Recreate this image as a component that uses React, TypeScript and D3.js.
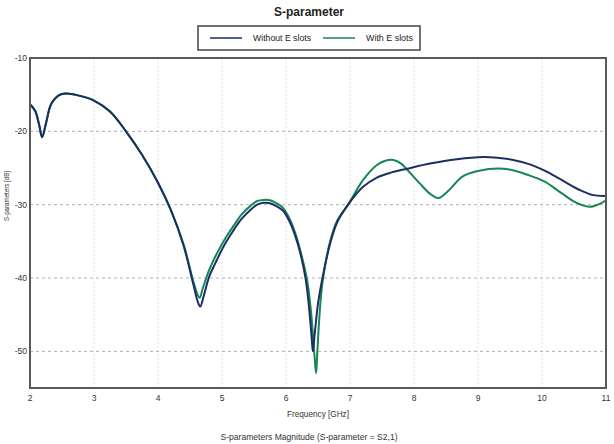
import { useEffect, useRef } from "react";
import * as d3 from "d3";

// S21 magnitude, reference design (frequency in GHz, magnitude in dB)
const freqWithout = [
  2.0, 2.08, 2.14, 2.19, 2.25, 2.33, 2.45, 2.56, 2.75, 3.0, 3.25, 3.5, 3.75, 4.0,
  4.2, 4.4, 4.55, 4.62, 4.66, 4.71, 4.8, 4.9, 5.05, 5.18, 5.3, 5.44, 5.55, 5.65,
  5.75, 5.85, 5.95, 6.05, 6.15, 6.24, 6.31, 6.36, 6.4, 6.42, 6.45, 6.5, 6.57,
  6.69, 6.8, 6.97, 7.2, 7.42, 7.65, 7.89, 8.25, 8.67, 9.08, 9.3, 9.55, 9.81,
  10.05, 10.3, 10.59, 10.8, 11.0,
];
const dbWithout = [
  -16.3, -17.2, -19.0, -20.8, -18.9, -16.3, -15.1, -14.85, -15.1, -15.8, -17.3,
  -20.0, -23.2, -27.0, -30.7, -35.6, -40.8, -43.2, -43.9, -42.6, -39.8, -37.9,
  -35.3, -33.5, -32.0, -30.75, -30.0, -29.75, -29.8, -30.2, -30.8, -32.2, -34.4,
  -37.2, -40.3, -44.0, -48.0, -50.0, -47.5, -43.5, -40.0, -35.3, -32.4, -30.0,
  -27.6, -26.3, -25.6, -25.1, -24.4, -23.8, -23.5, -23.6, -23.9, -24.5, -25.4,
  -26.6, -28.0, -28.7, -28.8,
];

// S21 magnitude with the E-shaped slots
const freqWith = [
  2.0, 2.08, 2.14, 2.19, 2.25, 2.33, 2.45, 2.56, 2.75, 3.0, 3.25, 3.5, 3.75, 4.0,
  4.2, 4.4, 4.55, 4.62, 4.65, 4.7, 4.8, 4.9, 5.05, 5.18, 5.3, 5.44, 5.55, 5.65,
  5.75, 5.85, 5.95, 6.05, 6.15, 6.24, 6.33, 6.39, 6.44, 6.47, 6.49, 6.52, 6.57,
  6.69, 6.8, 6.97, 7.2, 7.42, 7.55, 7.68, 7.8, 7.89, 8.09, 8.25, 8.38, 8.55,
  8.75, 9.0, 9.4, 9.8, 10.05, 10.3, 10.55, 10.75, 10.9, 11.0,
];
const dbWith = [
  -16.3, -17.2, -19.0, -20.8, -18.9, -16.3, -15.1, -14.85, -15.1, -15.8, -17.3,
  -20.0, -23.2, -27.0, -30.7, -35.4, -40.4, -42.3, -42.7, -41.4, -38.9, -37.0,
  -34.6, -32.9, -31.4, -30.2, -29.5, -29.35, -29.4, -29.8, -30.4, -31.8, -34.0,
  -36.8, -40.3, -44.5, -50.0, -53.0, -50.0, -45.5, -40.6, -35.0, -32.2, -30.0,
  -26.7, -24.6, -24.0, -23.9, -24.4, -25.2, -27.1, -28.5, -29.1, -28.0, -26.2,
  -25.4, -25.1, -26.0, -26.9, -28.4, -29.8, -30.3, -29.9, -29.4,
];

const xTicks = [2, 3, 4, 5, 6, 7, 8, 9, 10, 11];
const yTicks = [-10, -20, -30, -40, -50];

const seriesNames = ["Without E slots", "With E slots"];
const seriesColors = ["#1b2f63", "#168656"];

const W = 614;
const H = 444;
const plot = { left: 30, right: 606, top: 58, bottom: 388 };
const font = "Arial, 'Liberation Sans', sans-serif";

export default function App() {
  const svgRef = useRef<SVGSVGElement | null>(null);

  useEffect(() => {
    if (!svgRef.current) return;
    const svg = d3.select(svgRef.current);
    svg.selectAll("*").remove();

    const x = d3.scaleLinear().domain([2, 11]).range([plot.left, plot.right]);
    const y = d3
      .scaleLinear()
      .domain([-10, -55])
      .range([plot.top, plot.bottom]);

    svg.append("rect").attr("width", W).attr("height", H).attr("fill", "#fff");

    // grid
    svg
      .append("g")
      .selectAll("line")
      .data(xTicks.slice(1, -1))
      .enter()
      .append("line")
      .attr("x1", (d) => x(d))
      .attr("x2", (d) => x(d))
      .attr("y1", plot.top)
      .attr("y2", plot.bottom)
      .attr("stroke", "#e2e2e2")
      .attr("stroke-width", 1)
      .attr("stroke-dasharray", "2,2");

    svg
      .append("g")
      .selectAll("line")
      .data(yTicks.slice(1))
      .enter()
      .append("line")
      .attr("x1", plot.left)
      .attr("x2", plot.right)
      .attr("y1", (d) => y(d))
      .attr("y2", (d) => y(d))
      .attr("stroke", "#b0b0b0")
      .attr("stroke-width", 1)
      .attr("stroke-dasharray", "3,3");

    // curves (green first so the navy one sits on top where they coincide)
    const line = d3
      .line<[number, number]>()
      .x((d) => x(d[0]))
      .y((d) => y(d[1]))
      .curve(d3.curveCatmullRom.alpha(0.5));

    const series: [number, number][][] = [
      freqWithout.map((f, i) => [f, dbWithout[i]]),
      freqWith.map((f, i) => [f, dbWith[i]]),
    ];

    svg
      .append("g")
      .selectAll("path")
      .data([1, 0])
      .enter()
      .append("path")
      .attr("d", (i) => line(series[i]) as string)
      .attr("fill", "none")
      .attr("stroke", (i) => seriesColors[i])
      .attr("stroke-width", 2);

    // frame
    svg
      .append("rect")
      .attr("x", plot.left)
      .attr("y", plot.top)
      .attr("width", plot.right - plot.left)
      .attr("height", plot.bottom - plot.top)
      .attr("fill", "none")
      .attr("stroke", "#595959")
      .attr("stroke-width", 2);

    // tick labels
    svg
      .append("g")
      .selectAll("text")
      .data(yTicks)
      .enter()
      .append("text")
      .attr("x", plot.left - 3)
      .attr("y", (d) => y(d) + 3)
      .attr("text-anchor", "end")
      .attr("font-family", font)
      .attr("font-size", 8.5)
      .attr("fill", "#333")
      .text((d) => d);

    svg
      .append("g")
      .selectAll("text")
      .data(xTicks)
      .enter()
      .append("text")
      .attr("x", (d) => x(d))
      .attr("y", plot.bottom + 13)
      .attr("text-anchor", "middle")
      .attr("font-family", font)
      .attr("font-size", 8.5)
      .attr("fill", "#333")
      .text((d) => d);

    // titles
    svg
      .append("text")
      .attr("x", 309)
      .attr("y", 16)
      .attr("text-anchor", "middle")
      .attr("font-family", font)
      .attr("font-size", 13)
      .attr("font-weight", "bold")
      .attr("fill", "#222")
      .attr("textLength", 70)
      .attr("lengthAdjust", "spacingAndGlyphs")
      .text("S-parameter");

    svg
      .append("text")
      .attr("x", (plot.left + plot.right) / 2)
      .attr("y", 417)
      .attr("text-anchor", "middle")
      .attr("font-family", font)
      .attr("font-size", 9)
      .attr("fill", "#333")
      .attr("textLength", 62)
      .attr("lengthAdjust", "spacingAndGlyphs")
      .text("Frequency [GHz]");

    svg
      .append("text")
      .attr("transform", "translate(9,196) rotate(-90)")
      .attr("text-anchor", "middle")
      .attr("font-family", font)
      .attr("font-size", 8)
      .attr("fill", "#333")
      .attr("textLength", 50)
      .attr("lengthAdjust", "spacingAndGlyphs")
      .text("S-parameters [dB]");

    svg
      .append("text")
      .attr("x", 309)
      .attr("y", 440)
      .attr("text-anchor", "middle")
      .attr("font-family", font)
      .attr("font-size", 9)
      .attr("fill", "#333")
      .attr("textLength", 177)
      .attr("lengthAdjust", "spacingAndGlyphs")
      .text("S-parameters Magnitude (S-parameter = S2,1)");

    // legend
    const legend = svg.append("g");
    legend
      .append("rect")
      .attr("x", 198)
      .attr("y", 26)
      .attr("width", 222)
      .attr("height", 24)
      .attr("fill", "#fff")
      .attr("stroke", "#444")
      .attr("stroke-width", 1.5);

    const legendX = [210, 323];
    const legendTextW = [58, 47];
    seriesNames.forEach((name, i) => {
      legend
        .append("line")
        .attr("x1", legendX[i])
        .attr("x2", legendX[i] + 32)
        .attr("y1", 38)
        .attr("y2", 38)
        .attr("stroke", seriesColors[i])
        .attr("stroke-width", 1.5);
      legend
        .append("text")
        .attr("x", legendX[i] + 43)
        .attr("y", 41)
        .attr("font-family", font)
        .attr("font-size", 9)
        .attr("fill", "#222")
        .attr("textLength", legendTextW[i])
        .attr("lengthAdjust", "spacingAndGlyphs")
        .text(name);
    });
  }, []);

  return (
    <svg
      ref={svgRef}
      width={W}
      height={H}
      style={{ position: "absolute", left: 0, top: 0 }}
    />
  );
}
